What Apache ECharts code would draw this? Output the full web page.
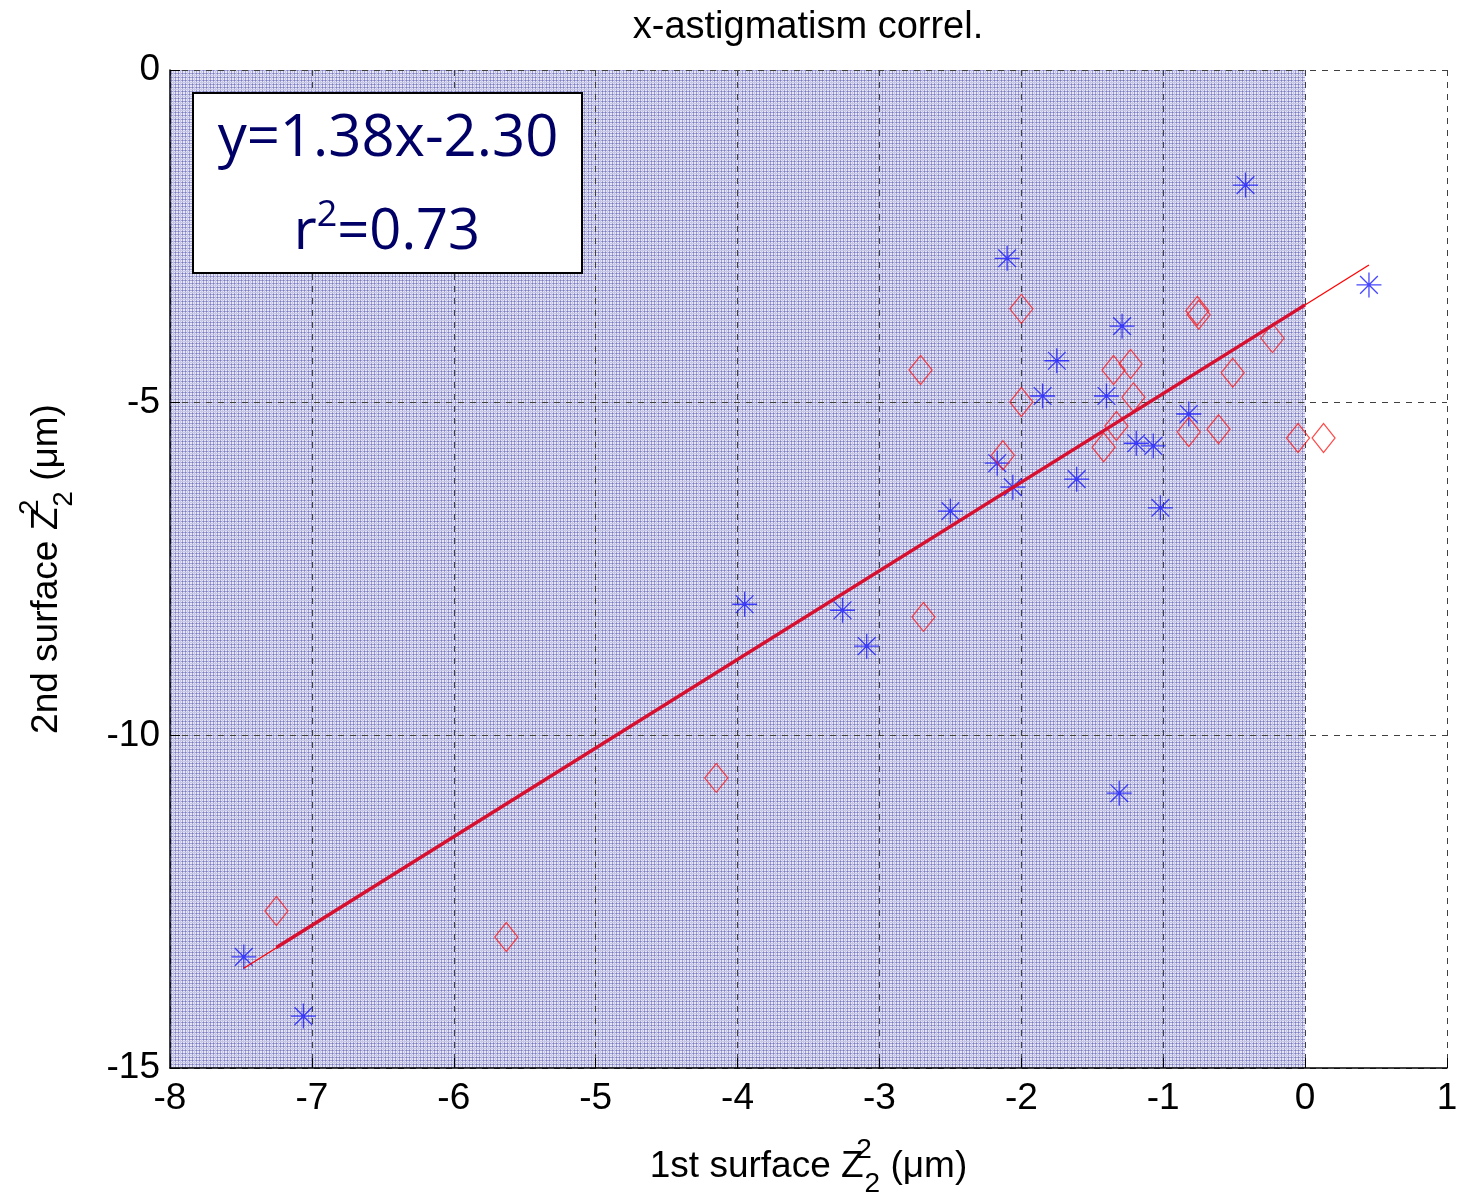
<!DOCTYPE html>
<html><head><meta charset="utf-8">
<script src="https://cdn.jsdelivr.net/npm/echarts/dist/echarts.min.js"></script>
<style>html,body{margin:0;padding:0;background:#fff}#c{width:1461px;height:1194px}</style>
</head><body><div id="c"></div>
<script>
// ---- data ----
const titleText = 'x-astigmatism correl.';
const xMin = -8, xMax = 1, xStep = 1;
const yMin = -15, yMax = 0, yStep = 5;
const starX = [-0.42, 0.45, -2.10, -1.29, -1.75, -1.85, -1.40, -0.82, -1.19, -1.07, -2.17, -2.06, -1.61, -1.02, -2.50, -3.95, -3.26, -3.09, -1.31, -7.48, -7.06];
const starY = [-1.73, -3.23, -2.83, -3.85, -4.37, -4.90, -4.90, -5.17, -5.61, -5.65, -5.91, -6.27, -6.15, -6.58, -6.63, -8.03, -8.12, -8.66, -10.87, -13.33, -14.22];
const diamondX = [-2.00, -0.76, -0.75, -1.23, -1.35, -0.23, -0.51, -2.00, -1.21, -1.33, -1.42, -0.82, -0.61, -0.05, 0.13, -2.13, -2.71, -2.69, -4.15, -7.25, -5.63];
const diamondY = [-3.59, -3.62, -3.68, -4.42, -4.51, -4.03, -4.55, -4.99, -4.92, -5.35, -5.67, -5.44, -5.40, -5.53, -5.53, -5.79, -4.51, -8.22, -10.64, -12.64, -13.03];
const fitX = [-7.48, 0.45];
const fitY = [-13.50, -2.93];
const fitCoreX = [-7.25, 0.0];
const fitCoreY = [-13.19, -3.53];
const shadeX = [-8, 0];
const shadeY = [-15, 0];
const eqText = 'y=1.38x-2.30';
const r2Value = '0.73';
const xName = ['1st surface Z', '2', '2', ' (μm)'];
const yName = ['2nd surface Z', '2', '2', ' (μm)'];

// ---- helpers ----
const F = '"Liberation Sans", Arial, sans-serif';
const BF = '"Open Sans", "Noto Sans", sans-serif';
function zip(a, b) { return a.map((v, i) => [v, b[i]]); }
function makePattern() {
  const c = document.createElement('canvas'); c.width = 7; c.height = 7;
  const g = c.getContext('2d');
  g.fillStyle = '#e6e6f5'; g.fillRect(0, 0, 7, 7);
  g.fillStyle = '#a2a2d4';
  g.fillRect(0, 0, 1, 7); g.fillRect(3, 0, 1, 7); g.fillRect(0, 0, 7, 1); g.fillRect(0, 3, 7, 1);
  g.fillStyle = '#c6c6e6';
  g.fillRect(5, 0, 1, 7); g.fillRect(0, 5, 7, 1);
  g.fillStyle = '#7c7cc0';
  [[0,0],[3,0],[0,3],[3,3]].forEach(p => g.fillRect(p[0], p[1], 1, 1));
  return c;
}
const richName = {
  m: { fontSize: 37, fontFamily: F, color: '#000', lineHeight: 62 },
  sup: { fontSize: 28, fontFamily: F, color: '#000', verticalAlign: 'top', lineHeight: 36, width: 1 },
  sub: { fontSize: 28, fontFamily: F, color: '#000', verticalAlign: 'bottom', lineHeight: 30 }
};
function nameStr(n) { return '{m|' + n[0] + '}{sup|' + n[1] + '}{sub|' + n[2] + '}{m|' + n[3] + '}'; }

const chart = echarts.init(document.getElementById('c'), null, { renderer: 'canvas' });
const starPath = 'path://M12,0L12,24M0,12L24,12M3.5,3.5L20.5,20.5M20.5,3.5L3.5,20.5';
const option = {
  animation: false,
  backgroundColor: '#fff',
  title: {
    text: titleText, left: 803, textAlign: 'center', top: 4,
    textStyle: { fontFamily: F, fontSize: 38, fontWeight: 'normal', color: '#000' }
  },
  grid: { left: 170, top: 70, right: 14, bottom: 126, containLabel: false, outerBoundsMode: 'none' },
  xAxis: {
    type: 'value', min: xMin, max: xMax, interval: xStep, z: 2,
    axisLine: { show: true, onZero: false, lineStyle: { color: '#000', width: 1.5 } },
    axisTick: { show: true, inside: true, length: 10, lineStyle: { color: '#000' } },
    axisLabel: { fontFamily: F, fontSize: 37, color: '#000', margin: 12, showMinLabel: true, showMaxLabel: true },
    splitLine: { show: true, lineStyle: { color: '#404040', type: [6, 6], width: 1 } },
    name: nameStr(xName), nameLocation: 'middle', nameGap: 68,
    nameTextStyle: { rich: richName, verticalAlign: 'top' }
  },
  yAxis: {
    type: 'value', min: yMin, max: yMax, interval: yStep, z: 2,
    axisLine: { show: true, onZero: false, lineStyle: { color: '#000', width: 1.5 } },
    axisTick: { show: true, inside: true, length: 10, lineStyle: { color: '#000' } },
    axisLabel: { fontFamily: F, fontSize: 37, color: '#000', margin: 10, showMinLabel: true, showMaxLabel: true },
    splitLine: { show: true, lineStyle: { color: '#404040', type: [6, 6], width: 1 } },
    name: nameStr(yName), nameLocation: 'middle', nameGap: 92, nameRotate: 90,
    nameTextStyle: { rich: richName }
  },
  series: [
    {
      type: 'line', z: -1, silent: true,
      data: zip(shadeX, shadeY), symbol: 'none', lineStyle: { opacity: 0 },
      markArea: {
        silent: true, z: -1,
        itemStyle: { color: { image: makePattern(), repeat: 'repeat' }, opacity: 1 },
        data: [[{ coord: [shadeX[0], shadeY[0]] }, { coord: [shadeX[1], shadeY[1]] }]]
      }
    },
    {
      type: 'line', data: zip(fitX, fitY), symbol: 'none', z: 5,
      lineStyle: { color: '#ff0000', width: 1.3 }
    },
    {
      type: 'line', data: zip(fitCoreX, fitCoreY), symbol: 'none', z: 5,
      lineStyle: { color: '#d81030', width: 3.5 }
    },
    {
      type: 'scatter', data: zip(starX, starY), symbol: starPath, symbolSize: 25, z: 4,
      itemStyle: { color: 'rgba(0,0,0,0)', borderColor: '#1818ff', borderWidth: 1.3 }
    },
    {
      type: 'scatter', data: zip(diamondX, diamondY), symbol: 'diamond', symbolSize: [23, 29], z: 4,
      itemStyle: { color: 'rgba(0,0,0,0)', borderColor: '#ff1a1a', borderWidth: 1.2 }
    }
  ],
  graphic: [
    { type: 'rect', z: 100, shape: { x: 193, y: 93, width: 389, height: 180 },
      style: { fill: '#fff', stroke: '#000', lineWidth: 2 } },
    { type: 'text', z: 101, x: 388, y: 139,
      style: { text: eqText, font: '58px ' + BF, fill: '#000066', align: 'center', verticalAlign: 'middle' } },
    { type: 'text', z: 101, x: 387, y: 233,
      style: { text: '{a|r}{b|2}{a|=' + r2Value + '}', align: 'center', verticalAlign: 'middle', fill: '#000066',
        rich: {
          a: { fontFamily: BF, fontSize: 56, fill: '#000066', lineHeight: 70 },
          b: { fontFamily: BF, fontSize: 36, fill: '#000066', verticalAlign: 'top', lineHeight: 50 }
        } } }
  ]
};
chart.setOption(option);
</script>
</body></html>
